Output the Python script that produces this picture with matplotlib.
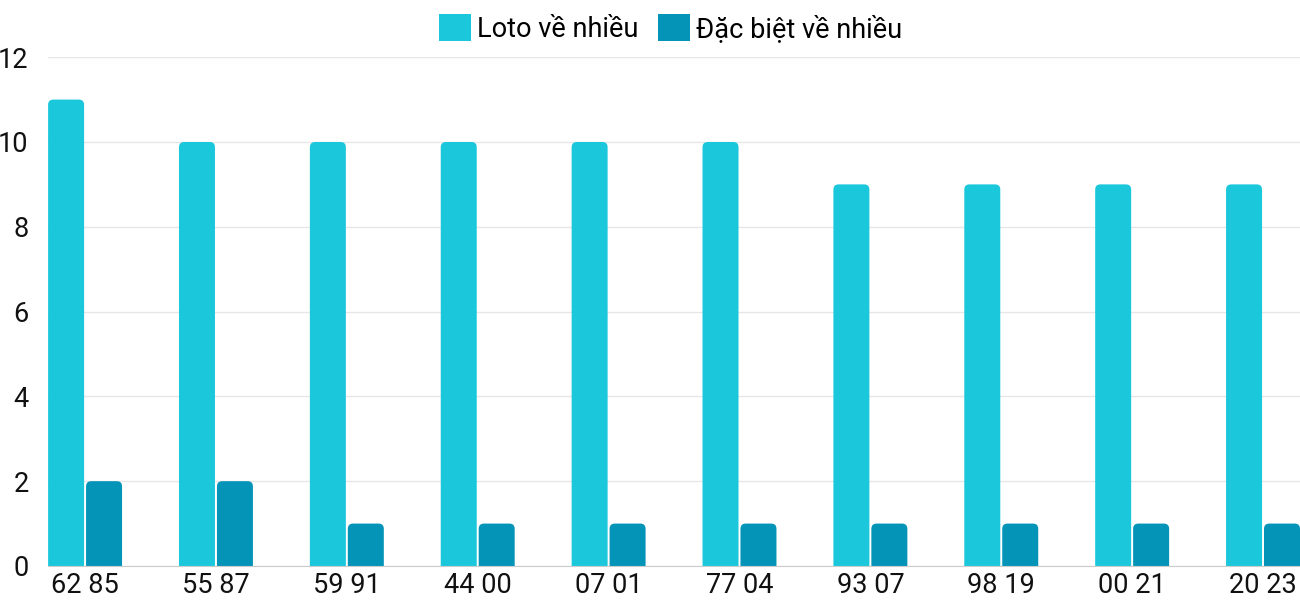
import numpy as np
import matplotlib.pyplot as plt
from matplotlib.patches import FancyBboxPatch, Patch

plt.rcParams['font.family'] = ['Roboto', 'DejaVu Sans']

pairs = ['62 85', '55 87', '59 91', '44 00', '07 01', '77 04', '93 07', '98 19', '00 21', '20 23']
loto = [11, 10, 10, 10, 10, 10, 9, 9, 9, 9]
dac_biet = [2, 2, 1, 1, 1, 1, 1, 1, 1, 1]

c_loto = '#1bc8db'
c_db = '#0494b7'


def main():
    fig = plt.figure(figsize=(13, 6), dpi=100)
    ax = fig.add_axes([0.037, 0.0567, 0.963, 0.848])

    x = np.arange(len(pairs))
    w = 0.275
    off = 0.145
    ax.set_xlim(-off - w / 2, len(pairs) - 1 + off + w / 2)
    ax.set_ylim(0, 12)

    # rounded tops: box starts below 0 so bottom corners are clipped away
    r = 0.04
    aspect = 3.09
    for xs, vals, col in ((x - off, loto, c_loto), (x + off, dac_biet, c_db)):
        for xi, v in zip(xs, vals):
            p = FancyBboxPatch((xi - w / 2, -0.5), w, v + 0.5,
                               boxstyle=f'round,pad=0,rounding_size={r}',
                               mutation_aspect=aspect, fc=col, ec='none',
                               zorder=3)
            ax.add_patch(p)

    ax.set_yticks(range(0, 13, 2))
    ax.set_xticks(x)
    ax.set_xticklabels(pairs)
    ax.tick_params(axis='both', length=0, labelsize=19.5, colors='#111111')
    ax.tick_params(axis='y', pad=14)
    ax.tick_params(axis='x', pad=4)
    ax.grid(axis='y', color='#e6e6e6', linewidth=1, zorder=0)
    for s in ('top', 'right', 'left'):
        ax.spines[s].set_visible(False)
    ax.spines['bottom'].set_color('#cccccc')
    ax.spines['bottom'].set_zorder(4)

    handles = [Patch(fc=c_loto, ec='none', label='Loto về nhiều'),
               Patch(fc=c_db, ec='none', label='Đặc biệt về nhiều')]
    fig.legend(handles=handles, loc='center', bbox_to_anchor=(0.516, 0.953),
               ncol=2, frameon=False, fontsize=19.5, handlelength=1.18,
               handleheight=1.18, handletextpad=0.22, columnspacing=0.74)

    fig.savefig('out.png', dpi=100)


if __name__ == '__main__':
    main()
